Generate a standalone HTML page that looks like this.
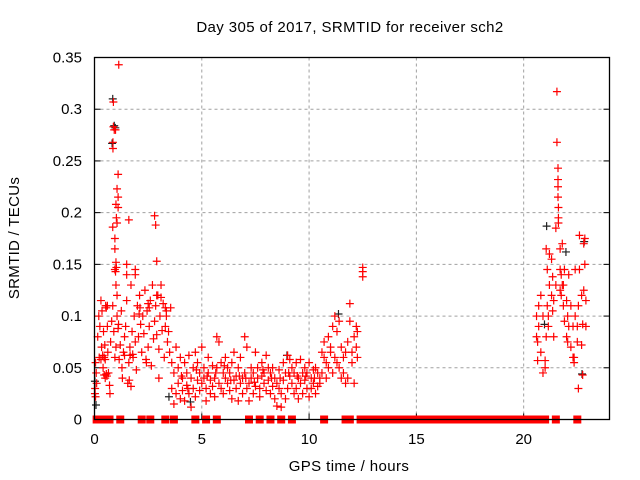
<!DOCTYPE html>
<html><head><meta charset="utf-8"><style>
html,body{margin:0;padding:0;background:#fff;}
svg{display:block;font-family:"Liberation Sans",sans-serif;}
</style></head><body>
<svg id="chart" width="640" height="480" viewBox="0 0 640 480" xmlns="http://www.w3.org/2000/svg">
<rect width="640" height="480" fill="#fff"/>
<text x="350" y="32" font-size="15" letter-spacing="0.4" text-anchor="middle" fill="#000">Day 305 of 2017, SRMTID for receiver sch2</text>
<text transform="translate(19,238) rotate(-90)" font-size="15" letter-spacing="0.3" text-anchor="middle" fill="#000">SRMTID / TECUs</text>
<text x="349" y="471" font-size="15" letter-spacing="0.4" text-anchor="middle" fill="#000">GPS time / hours</text>
<g id="grid"></g>
<g id="ticks"></g>
<g id="marks"></g>
<rect x="94.5" y="57.5" width="515" height="362" fill="none" stroke="#000" stroke-width="1.3"/>
</svg>
<script>
const xTicks=[0,5,10,15,20];
const yTicks=[0,0.05,0.1,0.15,0.2,0.25,0.3,0.35];
const yTickLabels=["0","0.05","0.1","0.15","0.2","0.25","0.3","0.35"];
const blackPoints=[[0.88,.308],[0.95,.282],[0.85,.265],[21.1,.185],[22.85,.17],[22.75,.042],[0.05,.035],[0.1,.012],[3.5,.02],[9.0,.06],[21.0,.09],[22.0,.16],[1.0,.28],[4.5,.015],[11.4,.1]];
const redPoints=[
[0.02,.025],[0.03,.03],[0.05,.022],[0.05,.055],[0.08,.045],[0.1,.035],[0.15,.08],[0.2,.1],[0.22,.06],[0.25,.09],[0.3,.115],[0.3,.058],[0.33,.07],[0.35,.105],[0.38,.062],[0.4,.05],[0.42,.085],[0.45,.043],[0.48,.072],[0.5,.04],
[1.13,.343],[0.88,.307],[0.88,.283],[0.98,.28],[0.92,.28],[0.86,.268],[0.86,.262],[1.1,.237],[1.05,.223],[1.1,.215],[1.0,.208],[1.1,.205],[1.02,.195],[1.05,.19],[0.85,.186],[1.6,.193],[0.95,.175],[0.95,.165],[1.0,.152],[1.02,.147],[0.95,.145],[0.98,.143],[1.0,.13],[1.05,.12],[2.8,.197],[2.85,.188],[2.9,.153],[1.5,.15],[1.5,.14],[1.9,.145],[1.9,.14],
[0.52,.11],[0.55,.108],[0.6,.09],[0.62,.065],[0.65,.045],[0.7,.033],[0.72,.025],[0.75,.075],[0.8,.095],[0.85,.11],[0.9,.085],[0.95,.06],[1.0,.07],[1.05,.1],[1.1,.088],[1.15,.058],[1.2,.072],[1.25,.105],[1.3,.04],[1.35,.065],[1.4,.08],[1.45,.09],[1.5,.115],[1.55,.035],[1.6,.055],[1.65,.07],[1.7,.13],[1.75,.085],[1.8,.06],[1.85,.1],[1.9,.075],[1.95,.048],[2.0,.11],[2.05,.08],[2.1,.12],[2.15,.092],[2.2,.065],[2.25,.1],[2.3,.083],[2.35,.125],[2.4,.058],[2.45,.105],[2.5,.07],[2.55,.09],[2.6,.115],[2.65,.052],[2.7,.13],[2.75,.078],[2.8,.095],[2.85,.11],[2.9,.082],[2.95,.12],[3.0,.068],[3.05,.1],[3.1,.13],[3.15,.086],[3.2,.112],[3.25,.06],[3.3,.09],[3.35,.105],[3.4,.075],[3.45,.085],[3.5,.065],[3.55,.108],[1.62,.038],[1.7,.032],[1.28,.05],[0.58,.042],[1.78,.063],[2.42,.055],[3.0,.04],
[0.45,.06],[0.5,.058],[0.55,.044],[0.6,.11],[1.12,.092],[1.4,.062],[1.66,.062],[2.08,.102],[2.12,.108],[2.5,.112],[2.55,.108],[2.9,.12],[3.1,.118],[3.3,.108],[3.35,.1],
[3.6,.055],[3.6,.03],[3.7,.045],[3.7,.015],[3.8,.07],[3.8,.025],[3.9,.035],[3.9,.05],[4.0,.02],[4.0,.06],[4.1,.04],[4.1,.028],[4.2,.055],[4.2,.018],[4.3,.033],[4.3,.045],[4.4,.025],[4.4,.062],[4.5,.012],[4.5,.04],[4.6,.05],[4.6,.03],[4.7,.022],[4.7,.065],[4.8,.038],[4.8,.055],[4.9,.028],[4.9,.045],[5.0,.07],[5.0,.035],[5.1,.04],[5.1,.05],[5.2,.018],[5.2,.03],[5.3,.045],[5.3,.06],[5.4,.025],[5.4,.038],[5.5,.052],[5.5,.032],[5.6,.04],[5.6,.022],[5.7,.08],[5.7,.05],[5.8,.075],[5.8,.035],[5.9,.03],[5.9,.055],[6.0,.045],[6.0,.025],[6.1,.06],[6.1,.04],[6.2,.035],[6.2,.05],[6.3,.028],[6.3,.045],[6.4,.055],[6.4,.02],[6.5,.065],[6.5,.038],[6.6,.042],[6.6,.03],[6.7,.05],[6.7,.018],[6.8,.06],[6.8,.035],[6.9,.04],[6.9,.025],[7.0,.08],[7.0,.045],[7.1,.07],[7.1,.03],[7.2,.035],[7.2,.018],[7.3,.05],[7.3,.04],[7.4,.025],[7.4,.045],[7.5,.065],[7.5,.032],[7.6,.04],[7.6,.05],[7.7,.03],[7.7,.022],[7.8,.055],[7.8,.042],[7.9,.045],[7.9,.035],[8.0,.062],[8.0,.028],[8.1,.038],[8.1,.05],[8.2,.025],[8.2,.045],[8.3,.05],[8.3,.032],[8.4,.02],[8.4,.04],[8.5,.013],[8.5,.035],[8.6,.03],[8.6,.048],[8.7,.012],[8.7,.025],[8.8,.055],[8.8,.038],[8.9,.045],[8.9,.02],[9.0,.062],[9.0,.03],[9.1,.058],[9.1,.042],[9.2,.035],[9.2,.05],[9.3,.025],[9.3,.045],[9.4,.055],[9.4,.03],[9.5,.04],[9.5,.02],[9.6,.058],[9.6,.035],[9.7,.045],[9.7,.025],[9.8,.05],[9.8,.038],[9.9,.03],[9.9,.045],[10.0,.055],[10.0,.022],[10.1,.04],[10.1,.03],[10.2,.035],[10.2,.048],[10.3,.05],[10.3,.025],[10.4,.045],[10.4,.032],[10.5,.035],[10.5,.04],
[4.05,.042],[4.35,.03],[4.75,.048],[5.25,.042],[5.65,.045],[6.05,.052],[6.35,.038],[6.75,.042],[7.05,.04],[7.45,.036],[7.85,.048],[8.25,.04],[8.65,.04],[9.05,.045],[9.45,.042],[9.85,.042],[10.25,.04],
[10.6,.065],[10.6,.045],[10.7,.06],[10.7,.075],[10.8,.055],[10.8,.04],[10.9,.08],[10.9,.05],[11.0,.065],[11.0,.07],[11.1,.09],[11.1,.045],[11.2,.1],[11.2,.06],[11.3,.085],[11.3,.055],[11.4,.095],[11.4,.05],[11.5,.07],[11.5,.04],[11.6,.045],[11.6,.06],[11.7,.035],[11.7,.065],[11.8,.075],[11.8,.04],[11.9,.112],[11.9,.095],[12.0,.065],[12.0,.055],[12.1,.08],[12.1,.035],[12.2,.07],[12.2,.09],[12.25,.06],[12.25,.085],
[12.5,.147],[12.5,.143],[12.5,.138],
[20.6,.1],[20.6,.08],[20.65,.075],[20.65,.057],[20.7,.11],[20.7,.09],[20.8,.12],[20.8,.065],[20.9,.1],[20.9,.045],[21.0,.057],[21.0,.05],[21.05,.165],[21.05,.08],[21.1,.145],[21.1,.11],[21.15,.1],[21.15,.09],[21.2,.16],[21.2,.13],[21.3,.155],[21.3,.12],[21.35,.138],[21.35,.105],[21.4,.115],[21.4,.08],[21.5,.185],[21.5,.13],[21.55,.317],[21.55,.268],[21.6,.243],[21.6,.232],[21.6,.225],[21.6,.215],[21.62,.205],[21.62,.195],[21.62,.19],[21.7,.165],[21.7,.145],[21.7,.125],[21.75,.14],[21.75,.12],[21.8,.17],[21.8,.13],[21.85,.13],[21.85,.11],[21.9,.145],[21.9,.095],[22.0,.115],[22.0,.08],[22.05,.1],[22.05,.075],[22.1,.14],[22.1,.09],[22.2,.11],[22.2,.07],[22.3,.09],[22.3,.06],[22.35,.055],[22.35,.06],[22.4,.145],[22.4,.1],[22.5,.09],[22.5,.075],[22.55,.03],[22.55,.11],[22.6,.178],[22.6,.145],[22.7,.12],[22.7,.072],[22.75,.043],[22.75,.092],[22.8,.17],[22.8,.125],[22.85,.175],[22.85,.15],[22.9,.09],[22.9,.115]
];
const zeroTimes=[0.1,0.2,0.3,0.4,0.7,1.2,2.2,2.6,3.3,3.7,4.7,5.2,5.7,7.2,7.7,8.2,8.7,9.2,10.7,11.7,11.9,
12.4,12.6,12.8,13.0,13.2,13.4,13.6,13.8,14.0,14.2,14.4,14.6,14.8,15.0,15.2,15.4,15.6,15.8,16.0,16.2,16.4,16.6,16.8,17.0,17.2,17.4,17.6,17.8,18.0,18.2,18.4,18.6,18.8,19.0,19.2,19.4,19.6,19.8,20.0,20.2,20.4,20.55,20.9,21.0,21.5,22.5];

const NS="http://www.w3.org/2000/svg";
const X0=94.5,X1=609.5,Y0=419.5,Y1=57.5,XMAX=24,YMAX=0.35;
function xs(h){return X0+(X1-X0)*h/XMAX;}
function ys(v){return Y0-(Y0-Y1)*v/YMAX;}
function mk(tag,attrs,parent){const e=document.createElementNS(NS,tag);for(const k in attrs)e.setAttribute(k,attrs[k]);parent.appendChild(e);return e;}
const grid=document.getElementById('grid'),ticks=document.getElementById('ticks'),marks=document.getElementById('marks');
xTicks.forEach(t=>{
  const x=xs(t);
  if(t>0){const g=mk('line',{x1:x,x2:x,y1:Y1,y2:Y0,stroke:'#a0a0a0','stroke-dasharray':'3,3','stroke-width':1},grid);
  
  }
  const tl=mk('text',{x:x,y:444,'font-size':15,'text-anchor':'middle',fill:'#000'},ticks);
  tl.textContent=String(t);
  
  
  const tm=mk('line',{x1:x,x2:x,y1:Y0,y2:Y0-6,stroke:'#000'},ticks);
  
  
});
yTicks.forEach((t,i)=>{
  const y=ys(t);
  if(t>0&&t<YMAX){const g=mk('line',{x1:X0,x2:X1,y1:y,y2:y,stroke:'#a0a0a0','stroke-dasharray':'3,3','stroke-width':1},grid);
  
  }
  const tl=mk('text',{x:82,y:y+5,'font-size':15,'text-anchor':'end',fill:'#000'},ticks);
  tl.textContent=yTickLabels[i];
  
  
  const a=mk('line',{x1:X0,x2:X0+6,y1:y,y2:y,stroke:'#000'},ticks);
  
  
  const b=mk('line',{x1:X1,x2:X1-6,y1:y,y2:y,stroke:'#000'},ticks);
  
  
});
function plus(h,v,color){
  const x=xs(h),y=ys(v);
  const p=mk('path',{d:`M${x-4} ${y}H${x+4}M${x} ${y-4}V${y+4}`,stroke:color,'stroke-width':1.2,fill:'none'},marks);
  
  
}
blackPoints.forEach(p=>plus(p[0]-0.03,p[1]+0.002,'#222'));
redPoints.forEach(p=>plus(p[0],p[1],'#ff0000'));
zeroTimes.forEach(h=>{
  const r=mk('rect',{x:xs(h)-4,y:ys(0)-4,width:8,height:8,fill:'#ff0000'},marks);
  
  
});
</script>
</body></html>
